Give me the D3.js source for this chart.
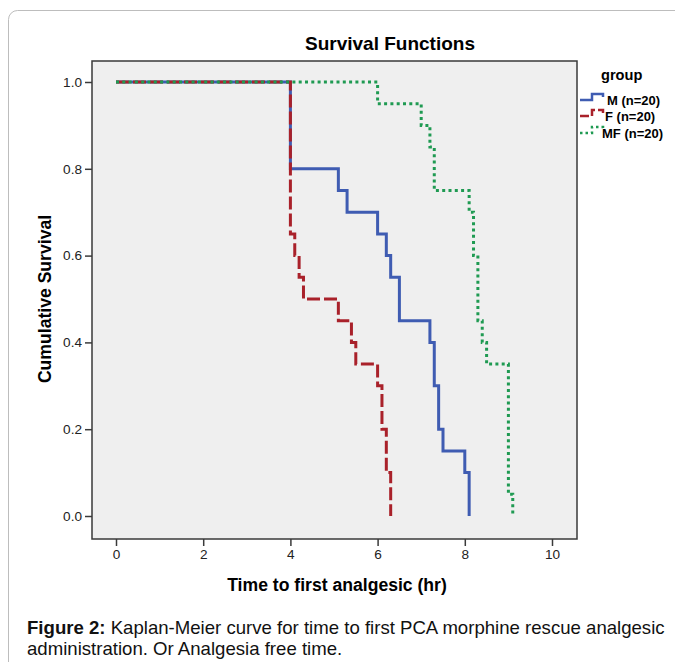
<!DOCTYPE html>
<html>
<head>
<meta charset="utf-8">
<script src="https://cdn.jsdelivr.net/npm/d3@7"></script>
<style>
  html, body { margin: 0; padding: 0; background: #fff; }
  svg { display: block; font-family: "Liberation Sans", Arial, sans-serif; }
</style>
</head>
<body>
<svg id="chart" width="675" height="662"></svg>
<script>
// Kaplan-Meier event steps: time (hr) and survival after the drop
const groups = ['M (n=20)', 'F (n=20)', 'MF (n=20)'];
const timesM = [4.0, 5.1, 5.3, 6.0, 6.2, 6.3, 6.5, 7.2, 7.3, 7.4, 7.5, 8.0, 8.1];
const survM  = [0.80, 0.75, 0.70, 0.65, 0.60, 0.55, 0.45, 0.40, 0.30, 0.20, 0.15, 0.10, 0.0];
const timesF = [4.0, 4.1, 4.2, 4.3, 5.1, 5.4, 5.5, 6.0, 6.1, 6.2, 6.3];
const survF  = [0.65, 0.60, 0.55, 0.50, 0.45, 0.40, 0.35, 0.30, 0.20, 0.10, 0.0];
const timesMF = [6.0, 7.0, 7.2, 7.3, 8.1, 8.2, 8.3, 8.4, 8.5, 9.0, 9.1];
const survMF  = [0.95, 0.90, 0.85, 0.75, 0.70, 0.60, 0.45, 0.40, 0.35, 0.05, 0.0];
const xTicks = [0, 2, 4, 6, 8, 10];
const yTicks = [0, 0.2, 0.4, 0.6, 0.8, 1.0];

const svg = d3.select('#chart');

// card border
svg.append('rect')
  .attr('x', 8.5).attr('y', 10.5)
  .attr('width', 700).attr('height', 700)
  .attr('rx', 9)
  .attr('fill', '#fff')
  .attr('stroke', '#bdbdbd');

// plot frame
const frame = {left: 92, right: 577, top: 61, bottom: 539};

const x = d3.scaleLinear().domain([0, 10]).range([116, 552]);
const y = d3.scaleLinear().domain([0, 1]).range([516, 82]);

svg.append('rect')
  .attr('x', frame.left).attr('y', frame.top)
  .attr('width', frame.right - frame.left)
  .attr('height', frame.bottom - frame.top)
  .attr('fill', '#efefef');

const series = [
  {name: groups[0], t: timesM, s: survM, color: '#3f5cb2', dash: null},
  {name: groups[1], t: timesF, s: survF, color: '#a9212a', dash: '13,4'},
  {name: groups[2], t: timesMF, s: survMF, color: '#1f9a52', dash: '3,3.3'}
];

const line = d3.line()
  .x(d => x(d[0]))
  .y(d => y(d[1]))
  .curve(d3.curveStepAfter);

series.forEach(sr => {
  const pts = [[0, 1]];
  sr.t.forEach((t, i) => pts.push([t, sr.s[i]]));
  svg.append('path')
    .attr('d', line(pts))
    .attr('fill', 'none')
    .attr('stroke', sr.color)
    .attr('stroke-width', 3)
    .attr('stroke-dasharray', sr.dash);
});

svg.append('rect')
  .attr('x', frame.left).attr('y', frame.top)
  .attr('width', frame.right - frame.left)
  .attr('height', frame.bottom - frame.top)
  .attr('fill', 'none')
  .attr('stroke', '#3a3a3a')
  .attr('stroke-width', 1.5);

// axes
const xAxis = svg.append('g')
  .attr('transform', 'translate(0,' + frame.bottom + ')')
  .call(d3.axisBottom(x).tickValues(xTicks).tickSize(7).tickSizeOuter(0).tickPadding(3));
const yAxis = svg.append('g')
  .attr('transform', 'translate(' + frame.left + ',0)')
  .call(d3.axisLeft(y).tickValues(yTicks).tickFormat(d3.format('.1f')).tickSize(7).tickSizeOuter(0).tickPadding(3));

[xAxis, yAxis].forEach(a => {
  a.attr('font-size', null).attr('font-family', null);
  a.select('.domain').remove();
  a.selectAll('line').attr('stroke', '#3a3a3a').attr('stroke-width', 1.5);
  a.selectAll('text')
    .attr('fill', '#222')
    .style('font-size', '13.6px')
    .style('font-family', '"Liberation Sans", Arial, sans-serif');
});

// titles
svg.append('text')
  .attr('x', 390).attr('y', 50)
  .attr('text-anchor', 'middle')
  .style('font-size', '19px').style('font-weight', 'bold')
  .text('Survival Functions');

svg.append('text')
  .attr('transform', 'translate(51,299) rotate(-90)')
  .attr('text-anchor', 'middle')
  .style('font-size', '17.6px').style('font-weight', 'bold')
  .text('Cumulative Survival');

svg.append('text')
  .attr('x', 337).attr('y', 591)
  .attr('text-anchor', 'middle')
  .style('font-size', '17.6px').style('font-weight', 'bold')
  .text('Time to first analgesic (hr)');

// legend
const legend = svg.append('g');
legend.append('text')
  .attr('x', 601).attr('y', 80)
  .style('font-size', '14.6px').style('font-weight', 'bold')
  .text('group');

const legendRows = [
  {y: 100, tx: 607},
  {y: 116, tx: 605},
  {y: 133, tx: 602}
];
series.forEach((sr, i) => {
  const r = legendRows[i];
  legend.append('path')
    .attr('d', `M580,${r.y} H592 V${r.y - 6} H603 V${r.y - 3}`)
    .attr('fill', 'none')
    .attr('stroke', sr.color)
    .attr('stroke-width', 2.5)
    .attr('stroke-dasharray', sr.dash ? (i === 1 ? '9,3' : '2.5,3') : null);
  legend.append('text')
    .attr('x', r.tx).attr('y', r.y + 4.5)
    .style('font-size', '13px').style('font-weight', 'bold')
    .text(sr.name);
});

// caption
const cap = svg.append('text')
  .attr('x', 27).attr('y', 634)
  .style('font-size', '18.6px')
  .attr('fill', '#111');
cap.append('tspan').style('font-weight', 'bold').text('Figure 2:');
cap.append('tspan').text(' Kaplan-Meier curve for time to first PCA morphine rescue analgesic');
svg.append('text')
  .attr('x', 27).attr('y', 655)
  .style('font-size', '18.6px')
  .attr('fill', '#111')
  .text('administration. Or Analgesia free time.');
</script>
</body>
</html>
